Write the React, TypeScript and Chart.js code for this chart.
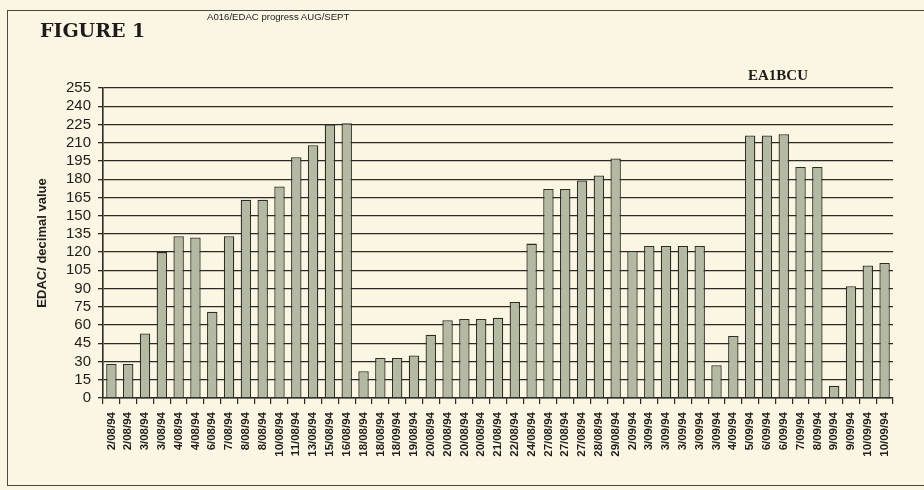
import React, { useEffect, useRef } from "react";
import { Chart, registerables } from "chart.js";

Chart.register(...registerables);

const dateLabels: string[] = [
  "2/08/94", "2/08/94", "3/08/94", "3/08/94", "4/08/94", "4/08/94", "6/08/94", "7/08/94",
  "8/08/94", "8/08/94", "10/08/94", "11/08/94", "13/08/94", "15/08/94", "16/08/94",
  "18/08/94", "18/08/94", "18/09/94", "19/08/94", "20/08/94", "20/08/94", "20/08/94", "20/08/94",
  "21/08/94", "22/08/94", "24/08/94", "27/08/94", "27/08/94", "27/08/94", "28/08/94", "29/08/94",
  "2/09/94", "3/09/94", "3/09/94", "3/09/94", "3/09/94", "3/09/94", "4/09/94", "5/09/94",
  "6/09/94", "6/09/94", "7/09/94", "8/09/94", "9/09/94", "9/09/94", "10/09/94", "10/09/94",
];

const edacValues: number[] = [
  28, 28, 53, 120, 133, 132, 71, 133,
  163, 163, 174, 198, 208, 225, 226,
  22, 33, 33, 35, 52, 64, 65, 65,
  66, 79, 127, 172, 172, 179, 183, 197,
  121, 125, 125, 125, 125, 27, 51, 216,
  216, 217, 190, 190, 10, 92, 109, 111,
];

const yMin = 0;
const yMax = 255;
const yStep = 15;

const figureLabel = "FIGURE 1";
const chartTitle = "A016/EDAC progress AUG/SEPT";
const callsign = "EA1BCU";
const yAxisTitle = "EDAC/ decimal value";

const ink = "#2b2b24";
const paper = "#fbf6e4";

export default function App() {
  const ref = useRef<HTMLCanvasElement>(null);

  useEffect(() => {
    document.body.style.margin = "0";
    document.body.style.background = paper;
    const chart = new Chart(ref.current!, {
      type: "bar",
      data: {
        labels: dateLabels,
        datasets: [
          {
            data: edacValues,
            backgroundColor: "#b3b9a2",
            borderColor: "#2c2d25",
            borderWidth: 1.3,
            barPercentage: 0.62,
            categoryPercentage: 1,
          },
        ],
      },
      options: {
        animation: false,
        responsive: false,
        layout: { padding: { left: 35, top: 88, right: 31, bottom: 0 } },
        plugins: {
          legend: { display: false },
          tooltip: { enabled: false },
          title: { display: false },
        },
        scales: {
          x: {
            grid: {
              drawOnChartArea: false,
              offset: true,
              drawTicks: true,
              tickLength: 6,
              color: ink,
              lineWidth: 1.2,
            },
            border: { color: ink, width: 1.6 },
            ticks: {
              autoSkip: false,
              maxRotation: 90,
              minRotation: 90,
              padding: 8,
              color: "#1e1e1a",
              font: { family: "'Liberation Sans', Arial, sans-serif", size: 11.5, weight: "bold" },
            },
            afterFit: (s: any) => {
              s.height = 92;
            },
          },
          y: {
            min: yMin,
            max: yMax,
            ticks: {
              stepSize: yStep,
              autoSkip: false,
              padding: 7,
              color: "#1e1e1a",
              font: { family: "'Liberation Sans', Arial, sans-serif", size: 15, lineHeight: 1 },
            },
            grid: { color: ink, lineWidth: 1.3, tickLength: 5 },
            border: { color: ink, width: 1.6 },
            title: {
              display: true,
              text: yAxisTitle,
              color: "#1e1e1a",
              padding: 0,
              font: { family: "'Liberation Sans', Arial, sans-serif", size: 13, weight: "bold" },
            },
            afterFit: (s: any) => {
              s.width = 68;
            },
          },
        },
      },
    });
    return () => chart.destroy();
  }, []);

  return (
    <div
      style={{
        position: "fixed",
        left: 0,
        top: 0,
        width: 924,
        height: 490,
        background: paper,
        overflow: "hidden",
      }}
    >
      <div
        style={{
          position: "absolute",
          left: 7,
          top: 10,
          width: 940,
          height: 476,
          border: "1.5px solid #4a4a42",
          boxSizing: "border-box",
        }}
      />
      <canvas
        ref={ref}
        width={924}
        height={490}
        style={{ position: "absolute", left: 0, top: 0, width: 924, height: 490 }}
      />
      <div
        style={{
          position: "absolute",
          left: 40,
          top: 21,
          fontFamily: "'DejaVu Serif', serif",
          fontWeight: "bold",
          fontSize: 19,
          lineHeight: "19px",
          color: "#1c1c18",
          whiteSpace: "nowrap",
        }}
      >
        {figureLabel}
      </div>
      <div
        style={{
          position: "absolute",
          left: 207,
          top: 12,
          fontFamily: "'Liberation Sans', Arial, sans-serif",
          fontSize: 9.6,
          lineHeight: "10px",
          color: "#1c1c18",
          whiteSpace: "nowrap",
        }}
      >
        {chartTitle}
      </div>
      <div
        style={{
          position: "absolute",
          left: 748,
          top: 68,
          fontFamily: "'Liberation Serif', 'Times New Roman', serif",
          fontWeight: "bold",
          fontSize: 15,
          lineHeight: "15px",
          color: "#1c1c18",
          whiteSpace: "nowrap",
        }}
      >
        {callsign}
      </div>
    </div>
  );
}
